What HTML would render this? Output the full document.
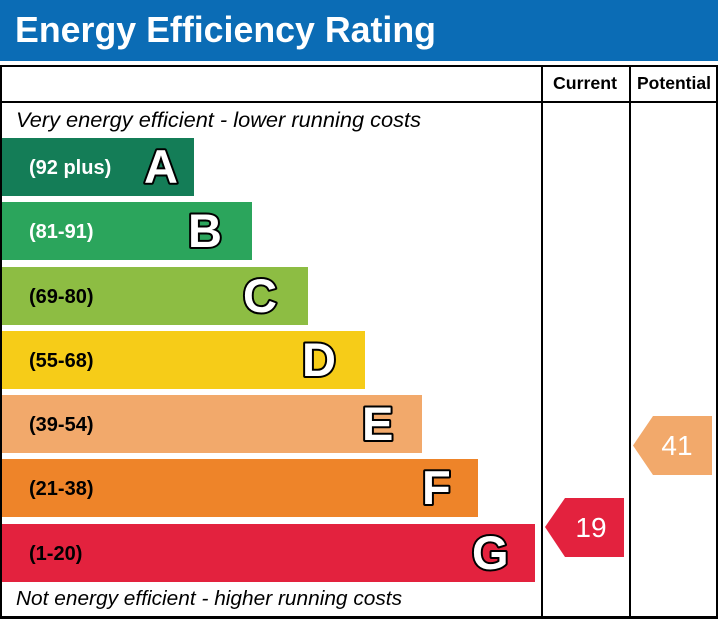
<!DOCTYPE html>
<html>
<head>
<meta charset="utf-8">
<style>
html,body{margin:0;padding:0;background:#fff;}
svg{display:block;}
text{font-family:"Liberation Sans",Arial,sans-serif;}
</style>
</head>
<body>
<svg width="718" height="619" viewBox="0 0 718 619" xmlns="http://www.w3.org/2000/svg">
  <rect x="0" y="0" width="718" height="619" fill="#fff"/>
  <!-- header -->
  <rect x="0" y="0" width="718" height="61" fill="#0b6cb5"/>
  <text x="15" y="42" font-size="36" font-weight="bold" fill="#fff" textLength="421" lengthAdjust="spacingAndGlyphs">Energy Efficiency Rating</text>

  <!-- bars -->
  <rect x="2" y="138" width="192" height="58" fill="#147d57"/>
  <rect x="2" y="202" width="250" height="58" fill="#2ba55c"/>
  <rect x="2" y="267" width="306" height="58" fill="#8dbd43"/>
  <rect x="2" y="331" width="363" height="58" fill="#f6cc18"/>
  <rect x="2" y="395" width="420" height="58" fill="#f2a96b"/>
  <rect x="2" y="459" width="476" height="58" fill="#ee8429"/>
  <rect x="2" y="524" width="533" height="58" fill="#e3223e"/>

  <!-- range labels -->
  <g font-size="20" font-weight="bold">
    <text x="29" y="174" fill="#fff">(92 plus)</text>
    <text x="29" y="238" fill="#fff">(81-91)</text>
    <text x="29" y="303" fill="#000">(69-80)</text>
    <text x="29" y="367" fill="#000">(55-68)</text>
    <text x="29" y="431" fill="#000">(39-54)</text>
    <text x="29" y="495" fill="#000">(21-38)</text>
    <text x="29" y="560" fill="#000">(1-20)</text>
  </g>

  <!-- letters -->
  <g font-size="47" font-weight="bold" fill="#fff" stroke="#000" stroke-width="4" paint-order="stroke" stroke-linejoin="round">
    <text x="144" y="183">A</text>
    <text x="188" y="247">B</text>
    <text x="243" y="312">C</text>
    <text x="302" y="376">D</text>
    <text x="362" y="440">E</text>
    <text x="422" y="504">F</text>
    <text x="472" y="569">G</text>
  </g>

  <!-- italic captions -->
  <text x="16" y="127" font-size="21" font-style="italic" fill="#000" textLength="405" lengthAdjust="spacingAndGlyphs">Very energy efficient - lower running costs</text>
  <text x="16" y="605" font-size="20" font-style="italic" fill="#000" textLength="386" lengthAdjust="spacingAndGlyphs">Not energy efficient - higher running costs</text>

  <!-- column headers -->
  <text x="553" y="89" font-size="17.5" font-weight="bold" fill="#000" textLength="64" lengthAdjust="spacingAndGlyphs">Current</text>
  <text x="637" y="89" font-size="17.5" font-weight="bold" fill="#000" textLength="74" lengthAdjust="spacingAndGlyphs">Potential</text>

  <!-- arrows -->
  <polygon points="545,527 565,498 624,498 624,557 565,557" fill="#e3223e"/>
  <text x="591" y="537" font-size="28" fill="#fff" text-anchor="middle">19</text>
  <polygon points="633,445.5 653,416 712,416 712,475 653,475" fill="#f2a96b"/>
  <text x="677" y="455" font-size="28" fill="#fff" text-anchor="middle">41</text>

  <!-- frame lines -->
  <g fill="#000">
    <rect x="0" y="65" width="718" height="2"/>
    <rect x="0" y="616" width="718" height="3"/>
    <rect x="0" y="65" width="2" height="554"/>
    <rect x="716" y="65" width="2" height="554"/>
    <rect x="0" y="101" width="718" height="2"/>
    <rect x="541" y="65" width="2" height="554"/>
    <rect x="629" y="65" width="2" height="554"/>
  </g>
</svg>
</body>
</html>
